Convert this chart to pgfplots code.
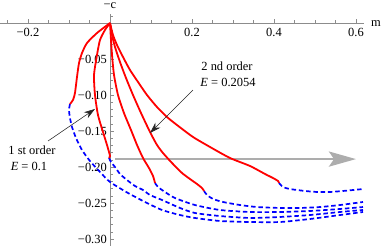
\documentclass[border=0pt]{standalone}
\usepackage{fontspec}
\setmainfont{Liberation Serif}
\usepackage{pgfplots}
\pgfplotsset{compat=1.18}
\usetikzlibrary{arrows.meta}
\definecolor{mred}{rgb}{1,0,0}
\definecolor{mblue}{rgb}{0,0,1}
\definecolor{axgray}{gray}{0.55}
\definecolor{argray}{gray}{0.68}
\begin{document}
\begin{tikzpicture}
\begin{axis}[
  anchor=origin, at={(0,0)},
  x=410bp, y=720bp,
  xmin=-0.2683, xmax=0.6195, ymin=-0.3097, ymax=0.0125,
  axis lines=middle,
  axis line style={-, draw=axgray, line width=0.7bp},
  clip=false,
  xtick={-0.2,0.2,0.4,0.6},
  xticklabels={−0.2,0.2,0.4,0.6},
  minor xtick={-0.25,-0.15,-0.1,-0.05,0.05,0.1,0.15,0.25,0.3,0.35,0.45,0.5,0.55},
  ytick={-0.05,-0.1,-0.15,-0.2,-0.25,-0.3},
  yticklabels={−0.05,−0.10,−0.15,−0.20,−0.25,−0.30},
  minor ytick={0.01,-0.01,-0.02,-0.03,-0.04,-0.06,-0.07,-0.08,-0.09,-0.11,-0.12,-0.13,-0.14,-0.16,-0.17,-0.18,-0.19,-0.21,-0.22,-0.23,-0.24,-0.26,-0.27,-0.28,-0.29},
  tick align=inside,
  major tick length=4bp, minor tick length=2.5bp,
  tick style={draw=axgray, line width=0.6bp},
  minor tick style={draw=axgray, line width=0.5bp},
  tick label style={font=\fontsize{12.5}{12.5}\selectfont, text=black},
  xticklabel style={anchor=north, inner sep=0pt, yshift=-5.5bp},
  yticklabel style={anchor=east, inner sep=0pt, xshift=-3bp},
]
% gray arrow
\draw[argray, line width=2.8bp, -{Stealth[length=27bp,width=15bp,inset=5bp]}] (axis cs:0.012,-0.189) -- (axis cs:0.6,-0.189);

% blue dashed branches
\addplot[mblue, line width=1.7bp, dash pattern=on 4.5bp off 2.8bp, smooth, tension=0.4] coordinates {
(-0.0976,-0.1125) (-0.1,-0.1208) (-0.0976,-0.1319) (-0.0927,-0.1444) (-0.0829,-0.1597)
(-0.0683,-0.1764) (-0.0488,-0.1917) (-0.0244,-0.2069) (0,-0.2208) (0.0439,-0.2361)
(0.0854,-0.2486) (0.1268,-0.2597) (0.1707,-0.2667) (0.2073,-0.2708) (0.2683,-0.275)
(0.3415,-0.2764) (0.4146,-0.2764) (0.4878,-0.2722) (0.561,-0.2667) (0.6171,-0.2625)};
\addplot[mblue, line width=1.7bp, dash pattern=on 4.5bp off 2.8bp, smooth, tension=0.4] coordinates {
(-0.0024,-0.1875) (0.0024,-0.1931) (0.0122,-0.2) (0.0244,-0.2097) (0.0415,-0.2181)
(0.061,-0.2264) (0.0805,-0.2319) (0.0976,-0.2389) (0.1268,-0.2458) (0.1707,-0.2569)
(0.2073,-0.2639) (0.2683,-0.2681) (0.3415,-0.2708) (0.4146,-0.2694) (0.4878,-0.2667)
(0.561,-0.2625) (0.6171,-0.2597)};
\addplot[mblue, line width=1.7bp, dash pattern=on 4.5bp off 2.8bp, smooth, tension=0.4] coordinates {
(0.1098,-0.2222) (0.1171,-0.2278) (0.1341,-0.2347) (0.1585,-0.2431) (0.2073,-0.2528)
(0.2683,-0.2597) (0.3415,-0.2625) (0.4146,-0.2625) (0.4878,-0.2611) (0.561,-0.2583)
(0.6171,-0.2556)};
\addplot[mblue, line width=1.7bp, dash pattern=on 4.5bp off 2.8bp, smooth, tension=0.4] coordinates {
(0.2293,-0.2333) (0.2366,-0.2389) (0.2512,-0.2444) (0.2756,-0.2486) (0.3171,-0.2528)
(0.3585,-0.2556) (0.4146,-0.2569) (0.4634,-0.2569) (0.5122,-0.2556) (0.561,-0.2528)
(0.6171,-0.2486)};
\addplot[mblue, line width=1.7bp, dash pattern=on 4.5bp off 2.8bp, smooth, tension=0.4] coordinates {
(0.4122,-0.2222) (0.422,-0.2278) (0.439,-0.2306) (0.4756,-0.2333) (0.5049,-0.2347)
(0.5366,-0.2347) (0.5683,-0.2333) (0.6171,-0.2306)};

% red solid branches
\addplot[mred, line width=1.8bp, smooth, tension=0.4] coordinates {
(0,0) (-0.0317,-0.0139) (-0.0561,-0.0278) (-0.0683,-0.0417) (-0.0756,-0.0556)
(-0.0805,-0.075) (-0.0854,-0.0972) (-0.0902,-0.1069) (-0.0976,-0.1125)};
\addplot[mred, line width=1.8bp, smooth, tension=0.4] coordinates {
(0,0) (-0.0122,-0.0097) (-0.0244,-0.0236) (-0.0317,-0.0444) (-0.039,-0.0722)
(-0.0366,-0.1) (-0.0293,-0.1278) (-0.0171,-0.1514) (-0.0073,-0.1694) (-0.0024,-0.1792)
(0,-0.1847) (-0.0024,-0.1875)};
\addplot[mred, line width=1.8bp, smooth, tension=0.4] coordinates {
(0,0) (0.0024,-0.0236) (0.0049,-0.0444) (0.0098,-0.0722) (0.0195,-0.1) (0.0341,-0.125)
(0.0512,-0.1486) (0.0659,-0.1694) (0.0805,-0.1875) (0.0951,-0.2014) (0.1049,-0.2125)
(0.1098,-0.2222)};
\addplot[mred, line width=1.8bp, smooth, tension=0.4] coordinates {
(0,0) (0.0049,-0.0167) (0.0122,-0.0333) (0.0244,-0.0542) (0.039,-0.0764) (0.0561,-0.1)
(0.0756,-0.125) (0.0976,-0.1514) (0.1146,-0.1694) (0.1293,-0.1806) (0.1512,-0.1944)
(0.1756,-0.2083) (0.1951,-0.2167) (0.2122,-0.2236) (0.2244,-0.2292) (0.2293,-0.2333)};
\addplot[mred, line width=1.8bp, smooth, tension=0.4] coordinates {
(0,0) (0.0073,-0.0167) (0.0171,-0.0306) (0.0317,-0.0472) (0.0488,-0.0653) (0.0683,-0.0819)
(0.0902,-0.1) (0.1146,-0.1167) (0.139,-0.1306) (0.1634,-0.1417) (0.2024,-0.1583)
(0.2439,-0.1722) (0.2927,-0.1875) (0.3415,-0.1986) (0.378,-0.2097) (0.3976,-0.2153)
(0.4098,-0.2194) (0.4122,-0.2222)};

% annotations
\draw[black!85, line width=0.55bp, -{Stealth[length=11bp,width=7bp]}] (axis cs:-0.1512,-0.1639) -- (axis cs:-0.0366,-0.1194);
\draw[black!85, line width=0.55bp, -{Stealth[length=11bp,width=7bp]}] (axis cs:0.2024,-0.0931) -- (axis cs:0.0976,-0.1528);
\node[font=\fontsize{12.5}{12.5}\selectfont, inner sep=0pt] at (axis cs:-0.1902,-0.1764) {1 st order};
\node[font=\fontsize{12.5}{12.5}\selectfont, inner sep=0pt] at (axis cs:-0.1976,-0.1986) {\textit{E} = 0.1};
\node[font=\fontsize{12.5}{12.5}\selectfont, inner sep=0pt] at (axis cs:0.2854,-0.0597) {2 nd order};
\node[font=\fontsize{12.5}{12.5}\selectfont, inner sep=0pt] at (axis cs:0.2878,-0.0819) {\textit{E} = 0.2054};
\node[font=\fontsize{12.5}{12.5}\selectfont, inner sep=0pt] at (axis cs:0.6488,-0.0007) {m};
\node[font=\fontsize{12.5}{12.5}\selectfont, inner sep=0pt] at (axis cs:0,0.0236) {−c};
\end{axis}
\pgfresetboundingbox
\useasboundingbox (-110bp,-223bp) rectangle (272bp,23bp);
\end{tikzpicture}
\end{document}
